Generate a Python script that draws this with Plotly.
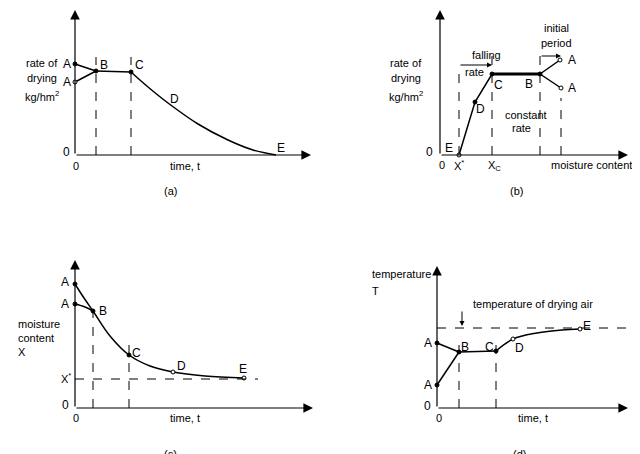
import plotly.graph_objects as go

W, H = 640, 454
# panel origins in page pixels
orig = {"a": (67, 147), "b": (432, 147), "c": (67, 400), "d": (429, 400)}
axid = {"a": "", "b": "2", "c": "3", "d": "4"}

# (a) rate of drying vs time
a_x_top, a_y_top = [0, 21], [91, 84]
a_x_low, a_y_low = [0, 21], [73, 84]
a_x_bc, a_y_bc = [21, 56], [84, 83]
a_x_ce = [56, 73, 93, 123, 153, 178, 201]
a_y_ce = [83, 68, 52, 31, 15, 5, 0]
a_dash_x = [21, 56]

# (b) rate of drying vs moisture content
b_x = [19, 35, 52, 100]
b_y = [0, 53, 81, 81]
b_x_up, b_y_up = [100, 120], [81, 95]
b_x_dn, b_y_dn = [100, 121], [81, 67]
b_dash_x = [19, 52, 100, 121]
b_dash_top = [89, 105, 107, 57]

# (c) moisture content vs time
c_x_top = [0, 9, 18, 35, 54, 75, 98, 130, 169]
c_y_top = [124, 110, 97, 72, 53, 42, 36, 32, 30]
c_x_low, c_y_low = [0, 10, 18], [104, 101, 97]
c_xstar = 29
c_dash_x = [18, 54]
c_dash_top = [100, 71]

# (d) temperature vs time
d_x_low, d_y_low = [0, 22], [23, 56]
d_x_up, d_y_up = [0, 22], [65, 56]
d_x_bc, d_y_bc = [22, 59], [56, 57]
d_x_ce = [59, 76, 100, 125, 143]
d_y_ce = [57, 69, 75, 78, 79]
d_air = 80
d_dash_x = [22, 59]

fig = go.Figure()
BLK = "black"


def ax(p):
    i = axid[p]
    return "x" + i, "y" + i


def line(p, xs, ys, spline=False, width=1.5):
    xr, yr = ax(p)
    fig.add_trace(go.Scatter(x=xs, y=ys, xaxis=xr, yaxis=yr, mode="lines",
                             line=dict(color=BLK, width=width,
                                       shape="spline" if spline else "linear"),
                             showlegend=False, hoverinfo="skip"))


def pts(p, xs, ys, filled=True):
    xr, yr = ax(p)
    fig.add_trace(go.Scatter(x=xs, y=ys, xaxis=xr, yaxis=yr, mode="markers",
                             marker=dict(size=4, color=BLK if filled else "white",
                                         line=dict(color=BLK, width=1)),
                             cliponaxis=False, showlegend=False, hoverinfo="skip"))


def dash(p, x0, y0, x1, y1):
    xr, yr = ax(p)
    fig.add_shape(type="line", xref=xr, yref=yr, x0=x0, y0=y0, x1=x1, y1=y1,
                  line=dict(color=BLK, width=1, dash="dash"))


def arrow(p, x0, y0, x1, y1, head=2, size=1.6, width=1.2):
    xr, yr = ax(p)
    fig.add_annotation(x=x1, y=y1, ax=x0, ay=y0, xref=xr, yref=yr, axref=xr, ayref=yr,
                       showarrow=True, arrowhead=head, arrowsize=size, arrowwidth=width,
                       arrowcolor=BLK, text="")


def txt(p, s, px, py, size=11, anchor="center"):
    ox, oy = orig[p]
    xr, yr = ax(p)
    fig.add_annotation(x=px - ox, y=oy - py, xref=xr, yref=yr, text=s, showarrow=False,
                       xanchor=anchor, yanchor="middle",
                       font=dict(size=size, color=BLK, family="Liberation Sans"))


def axes(p, xend, ytop):
    arrow(p, 0, 0, xend, 0)
    arrow(p, 0, 0, 0, ytop)


# ---- (a)
axes("a", 236, 145)
for xv in a_dash_x:
    dash("a", xv, 0, xv, 98)
line("a", a_x_top, a_y_top)
line("a", a_x_low, a_y_low)
line("a", a_x_bc, a_y_bc)
line("a", a_x_ce, a_y_ce, spline=True)
pts("a", [a_x_top[0], a_x_bc[0], a_x_bc[1]], [a_y_top[0], a_y_bc[0], a_y_bc[1]])
pts("a", [a_x_low[0]], [a_y_low[0]], filled=False)
for s, x, y in [("A", 59, 56), ("A", 59, 74), ("B", 96, 57), ("C", 131, 57), ("D", 166, 91),
                ("E", 273, 140), ("0", 58, 144)]:
    txt("a", s, x, y, 12)
for s, x, y in [("0", 68, 158), ("time, t", 177, 158), ("rate of", 34, 55), ("drying", 34, 70),
                ("kg/hm<sup>2</sup>", 34, 88), ("(a)", 162, 183)]:
    txt("a", s, x, y, 11)

# ---- (b)
axes("b", 188, 145)
for xv, top in zip(b_dash_x, b_dash_top):
    dash("b", xv, 0, xv, top)
line("b", b_x, b_y)
line("b", b_x_up, b_y_up)
line("b", b_x_dn, b_y_dn)
line("b", b_x[2:], b_y[2:], width=3)
pts("b", b_x[1:], b_y[1:])
pts("b", [b_x[0], b_x_up[1], b_x_dn[1]], [b_y[0], b_y_up[1], b_y_dn[1]], filled=False)
arrow("b", 19, 90, 52, 90, head=2, size=1, width=1)
arrow("b", 100, 99, 121, 99, head=2, size=1, width=1)
for s, x, y in [("A", 564, 52), ("A", 564, 80), ("B", 521, 76), ("C", 490, 77), ("D", 472, 101),
                ("E", 441, 140), ("0", 421, 144)]:
    txt("b", s, x, y, 12)
for s, x, y in [("falling", 478, 47), ("rate", 466, 64), ("constant", 518, 107), ("rate", 513, 120),
                ("initial", 548, 20), ("period", 548, 35), ("X<sup>*</sup>", 451, 157),
                ("X<sub>C</sub>", 486, 158), ("0", 434, 157), ("moisture content, X", 590, 157),
                ("rate of", 398, 55), ("drying", 398, 70), ("kg/hm<sup>2</sup>", 398, 88),
                ("(b)", 508, 183)]:
    txt("b", s, x, y, 11)

# ---- (c)
axes("c", 238, 148)
dash("c", 0, c_xstar, 183, c_xstar)
for xv, top in zip(c_dash_x, c_dash_top):
    dash("c", xv, 0, xv, top)
line("c", c_x_top, c_y_top, spline=True)
line("c", c_x_low, c_y_low, spline=True)
pts("c", [0, 0, 18, 54], [c_y_top[0], c_y_low[0], 97, 53])
pts("c", [98, 169], [36, 30], filled=False)
for s, x, y in [("A", 57, 274), ("A", 57, 296), ("B", 95, 303), ("C", 128, 345), ("D", 173, 358),
                ("E", 235, 361), ("0", 57, 397)]:
    txt("c", s, x, y, 12)
for s, x, y in [("X<sup>*</sup>", 58, 370), ("0", 68, 410), ("time, t", 177, 410), ("(c)", 162, 446)]:
    txt("c", s, x, y, 11)
for s, y in [("moisture", 316), ("content", 330), ("X", 344)]:
    txt("c", s, 8, y, 11, "left")

# ---- (d)
axes("d", 191, 142)
dash("d", 0, d_air, 201, d_air)
for xv in d_dash_x:
    dash("d", xv, 0, xv, 64)
line("d", d_x_low, d_y_low)
line("d", d_x_up, d_y_up)
line("d", d_x_bc, d_y_bc)
line("d", d_x_ce, d_y_ce, spline=True)
pts("d", [0, 0, 22, 59], [d_y_low[0], d_y_up[0], 56, 57])
pts("d", [76, 143], [69, 79], filled=False)
arrow("d", 25, 98, 25, 82, head=2, size=1, width=1)
for s, x, y in [("A", 420, 335), ("A", 420, 377), ("B", 457, 339), ("C", 481, 339), ("D", 511, 340),
                ("E", 579, 318), ("0", 419, 398)]:
    txt("d", s, x, y, 12)
for s, x, y in [("0", 431, 410), ("time, t", 525, 410), ("temperature of drying air", 525, 296),
                ("(d)", 511, 446)]:
    txt("d", s, x, y, 11)
for s, y in [("temperature", 266), ("T", 283)]:
    txt("d", s, 362, y, 11, "left")

lay = dict(width=W, height=H, margin=dict(l=0, r=0, t=0, b=0),
           plot_bgcolor="white", paper_bgcolor="white", showlegend=False)
for p, (ox, oy) in orig.items():
    i = axid[p]
    xk, yk = "xaxis" + i, "yaxis" + i
    xa = dict(range=[-ox, W - ox], domain=[0, 1], visible=False, fixedrange=True)
    ya = dict(range=[-(H - oy), oy], domain=[0, 1], visible=False, fixedrange=True)
    if i:
        xa["overlaying"] = "x"
        ya["overlaying"] = "y"
        xa["anchor"] = "y" + i
        ya["anchor"] = "x" + i
    lay[xk] = xa
    lay[yk] = ya
fig.update_layout(**lay)

fig.write_html("out.html")
